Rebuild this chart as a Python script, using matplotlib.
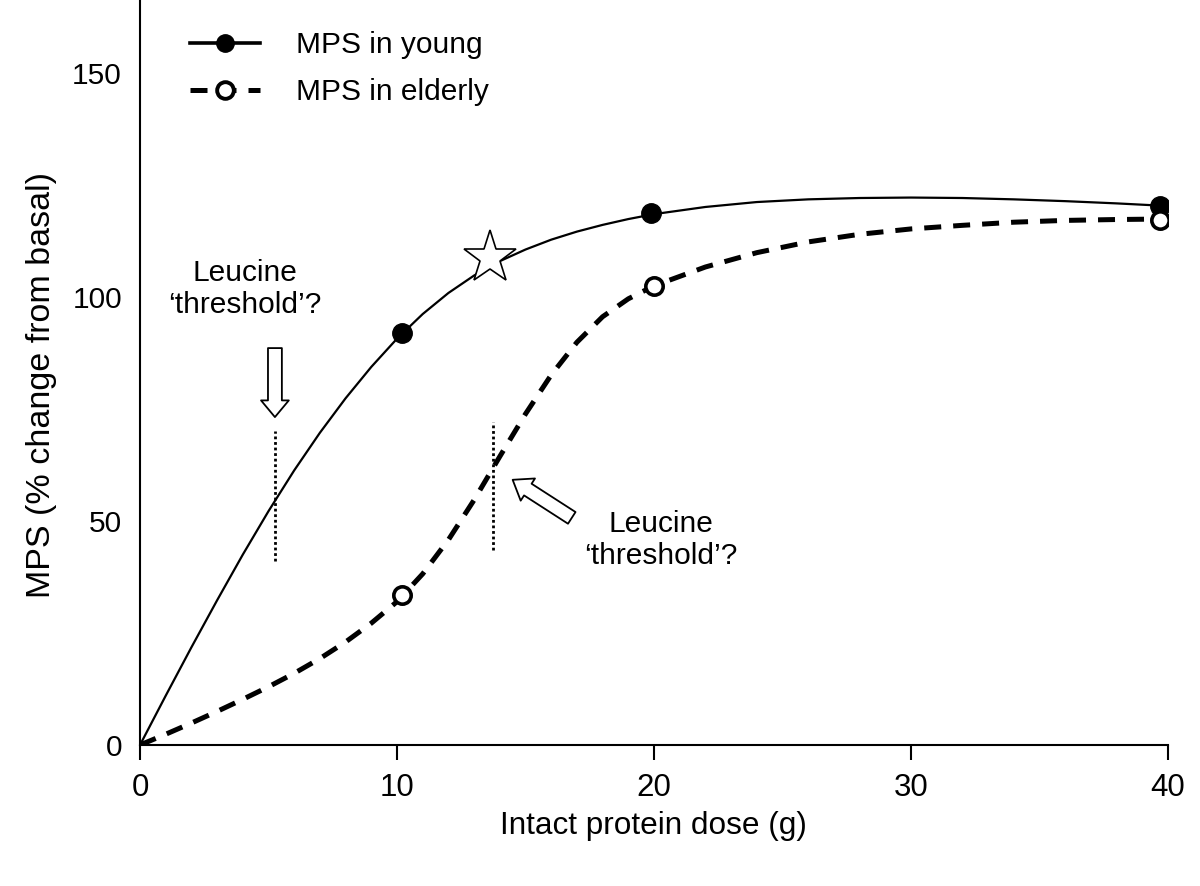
import numpy as np
import matplotlib
matplotlib.use("Agg")
import matplotlib.pyplot as plt
from matplotlib.lines import Line2D

plt.rcParams['font.family'] = ['Liberation Sans', 'DejaVu Sans']

# curves (protein dose g, MPS % change)
young_curve_x = [0, 1, 2, 3, 4, 5, 6, 7, 8, 9, 10, 11, 12, 13, 14, 15, 16, 17, 18, 19,
                 20, 22, 24, 26, 28, 30, 32, 34, 36, 38, 39.7]
young_curve_y = [0, 11.0, 21.8, 32.3, 42.5, 52.2, 61.3, 69.7, 77.4, 84.4, 90.7, 96.2,
                 100.9, 104.8, 108.0, 110.6, 112.8, 114.6, 116.1, 117.4, 118.5, 120.1,
                 121.2, 121.8, 122.1, 122.2, 122.1, 121.8, 121.4, 120.9, 120.4]
elderly_curve_x = [0, 1, 2, 3, 4, 5, 6, 7, 8, 9, 10, 11, 12, 13, 14, 15, 16, 17, 18, 19,
                   20, 22, 24, 26, 28, 30, 32, 34, 36, 38, 39.7]
elderly_curve_y = [0, 2.4, 4.9, 7.5, 10.2, 13.0, 16.0, 19.3, 23.0, 27.2, 32.0, 38.2,
                   45.8, 54.7, 64.4, 73.9, 82.6, 89.9, 95.6, 99.6, 102.5, 106.7, 109.9,
                   112.3, 114.0, 115.2, 116.0, 116.7, 117.1, 117.3, 117.4]

# measured points
young_x = [10.2, 19.9, 39.7]
young_y = [92, 118.7, 120.3]
elderly_x = [10.2, 20.0, 39.7]
elderly_y = [33.5, 102.5, 117.3]

# optimum marker (star) and leucine thresholds
star_x, star_y = 13.6, 108.8
threshold_x = [5.25, 13.72]
threshold_lo = [41, 43.5]
threshold_hi = [70, 72]

xticks = [0, 10, 20, 30, 40]
yticks = [0, 50, 100, 150]

fs = 21.5

fig = plt.figure(figsize=(12, 8.86), dpi=100)
ax = fig.add_axes([140 / 1200, 1 - 745 / 886, 1028 / 1200, 745 / 886])

ax.plot(young_curve_x, young_curve_y, color='black', lw=1.6, zorder=2)
ax.plot(elderly_curve_x, elderly_curve_y, color='black', lw=3.6,
        dashes=(3.4, 2.4), zorder=2)

ax.plot(young_x, young_y, 'o', color='black', ms=14, zorder=4)
ax.plot(elderly_x, elderly_y, 'o', mfc='white', mec='black', mew=2.6, ms=12.5, zorder=5)

ax.plot([star_x], [star_y], marker='*', ms=40, mfc='white', mec='black', mew=1.2,
        zorder=6)

for tx, lo, hi in zip(threshold_x, threshold_lo, threshold_hi):
    ax.plot([tx, tx], [lo, hi], color='black', lw=2, linestyle=(0, (1, 1)), zorder=3)

# arrows
ax.annotate('', xy=(5.25, 73.2), xytext=(5.25, 88.6),
            arrowprops=dict(arrowstyle='simple,head_length=0.6,head_width=1.0,tail_width=0.5',
                            fc='white', ec='black', lw=1.3, mutation_scale=20,
                            shrinkA=0, shrinkB=0))
ax.annotate('', xy=(14.5, 59.2), xytext=(16.8, 50.7),
            arrowprops=dict(arrowstyle='simple,head_length=0.65,head_width=0.95,tail_width=0.5',
                            fc='white', ec='black', lw=1.3, mutation_scale=20,
                            shrinkA=0, shrinkB=0))

ax.text(4.09, 101.8, 'Leucine\n\u2018threshold\u2019?', ha='center', va='center',
        fontsize=fs, linespacing=1.19)
ax.text(20.27, 45.8, 'Leucine\n\u2018threshold\u2019?', ha='center', va='center',
        fontsize=fs, linespacing=1.19)

ax.set_xlim(0, 40)
ax.set_ylim(0, 166.3)
ax.set_xticks(xticks)
ax.set_yticks(yticks)
ax.tick_params(axis='x', length=11, width=1.5, pad=9, labelsize=22.5)
ax.tick_params(axis='y', length=0, pad=13, labelsize=fs)
for s in ['top', 'right']:
    ax.spines[s].set_visible(False)
for s in ['left', 'bottom']:
    ax.spines[s].set_linewidth(1.5)

fig.text(42 / 1200, 1 - 385 / 886, 'MPS (% change from basal)', rotation=90,
         ha='center', va='center', fontsize=24.5)
fig.text(653 / 1200, 1 - 826 / 886, 'Intact protein dose (g)', ha='center',
         va='center', fontsize=22.7)

handles = [
    Line2D([], [], color='black', lw=2.6, marker='o', ms=12.5),
    Line2D([], [], color='black', lw=3.6, dashes=(3.4, 2.4), marker='o', ms=12,
           mfc='white', mew=2.8),
]
ax.legend(handles, ['MPS in young', 'MPS in elderly'], loc='upper left',
          bbox_to_anchor=(50 / 1028, 1 - 31 / 745), frameon=False, fontsize=fs,
          handlelength=2.35, handletextpad=1.2, labelspacing=0.65, borderaxespad=0,
          borderpad=0)

fig.savefig('out.png', dpi=100)
